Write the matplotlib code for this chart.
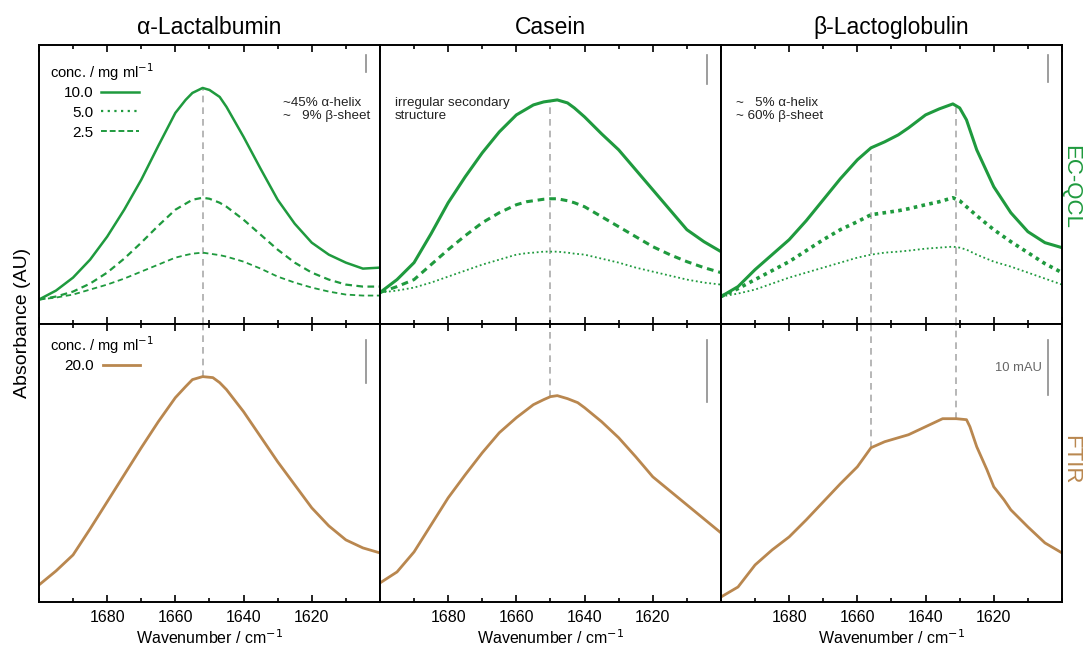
import matplotlib
matplotlib.use("Agg")
import matplotlib.pyplot as plt
from matplotlib.lines import Line2D
from matplotlib.ticker import MultipleLocator

plt.rcParams["font.family"] = ["Liberation Sans", "DejaVu Sans"]

green = "#1f9a3e"
brown = "#b9874f"
grey = "#8c8c8c"

proteins = ["\u03b1-Lactalbumin", "Casein", "\u03b2-Lactoglobulin"]

# EC-QCL spectra (arbitrary absorbance units), 10.0 / 5.0 / 2.5 mg/ml
wn_ala = [1700, 1695, 1690, 1685, 1680, 1675, 1670, 1665, 1660, 1657, 1655,
          1652, 1650, 1647, 1645, 1640, 1635, 1630, 1625, 1620, 1615, 1610,
          1605, 1600]
ala_10 = [24, 33, 46, 64, 87, 114, 144, 178, 211, 224, 231,
          236, 234, 227, 217, 187, 155, 124, 100, 81, 69, 61, 55, 56]
ala_5 = [24, 27, 32, 40, 51, 65, 81, 98, 114, 120, 124,
         126, 125, 121, 117, 104, 89, 74, 61, 51, 44, 39, 37, 37]
ala_2 = [24, 26, 29, 34, 39, 45, 52, 59, 66, 68.5, 70,
         71, 70, 68.5, 67, 62, 55, 47, 41, 36, 32, 29, 28, 28]

wn_cas = [1700, 1695, 1690, 1685, 1680, 1675, 1670, 1665, 1660, 1657, 1655,
          1652, 1650, 1648, 1645, 1643, 1640, 1635, 1630, 1625, 1620, 1615,
          1610, 1605, 1600]
cas_10 = [31, 44, 61, 90, 121, 147, 171, 192, 209, 215, 219,
          222, 223, 224, 221, 216, 207, 190, 174, 154, 134, 114, 94, 82, 72]
cas_5 = [31, 37, 44, 59, 74, 88, 101, 111, 119, 122, 123,
         124.5, 125, 125, 123, 121, 117, 107, 97, 87, 77, 69, 62, 56, 51]
cas_2 = [31, 33, 36, 41, 47, 53, 59, 64, 69, 70.5, 71,
         72, 72, 72, 71, 70, 69, 65, 61, 56, 52, 48, 44, 41, 39]

wn_blg = [1700, 1695, 1690, 1685, 1680, 1675, 1670, 1665, 1660, 1656, 1652,
          1648, 1645, 1640, 1636, 1632, 1630, 1628, 1625, 1620, 1615, 1610,
          1605, 1600]
blg_10 = [27, 37, 54, 69, 84, 103, 124, 145, 164, 176, 182,
          189, 196, 209, 215, 220, 216, 204, 174, 137, 111, 92, 81, 76]
blg_5 = [27, 35, 44, 53, 62, 73, 84, 94, 102, 109, 111,
         113, 115, 119, 122, 126, 123, 117, 108, 94, 82, 71, 60, 51]
blg_2 = [27, 30, 34, 40, 46, 51, 56, 61, 66, 69, 71,
         72, 73, 75, 76, 77, 76, 74, 69, 62, 57, 51, 45, 39]

# FTIR spectra, 20.0 mg/ml
wn_ala_ir = [1700, 1695, 1690, 1685, 1680, 1675, 1670, 1665, 1660, 1657, 1655,
             1652, 1649, 1647, 1645, 1640, 1635, 1630, 1625, 1620, 1615, 1610,
             1605, 1600]
ala_ir = [17, 31, 47, 73, 100, 127, 154, 180, 204, 215, 222,
          225, 224, 219, 212, 190, 165, 140, 117, 94, 76, 62, 54, 49]
wn_cas_ir = [1700, 1695, 1690, 1685, 1680, 1675, 1670, 1665, 1660, 1655, 1652,
             1650, 1648, 1645, 1642, 1640, 1635, 1630, 1625, 1620, 1615, 1610,
             1605, 1600]
cas_ir = [19, 30, 50, 77, 104, 127, 149, 169, 184, 197, 202,
          205, 206, 203, 199, 194, 180, 164, 145, 125, 111, 97, 83, 69]
wn_blg_ir = [1700, 1695, 1690, 1685, 1680, 1675, 1670, 1665, 1660, 1656, 1652,
             1648, 1645, 1640, 1635, 1631, 1628, 1627, 1625, 1622, 1620, 1617,
             1615, 1610, 1605, 1600]
blg_ir = [5, 15, 37, 52, 65, 82, 100, 118, 135, 154, 160,
          164, 167, 175, 183, 183, 182, 175, 155, 132, 115, 102,
          92, 75, 59, 49]

# band positions marked by grey dashed lines
bands = [[1652], [1650], [1656, 1631]]
# length of a 10 mAU bar in each panel
bar_qcl = [17, 29, 27]
bar_ir = [43, 62, 55]

notes = ["~45% \u03b1-helix\n~   9% \u03b2-sheet",
         "irregular secondary\nstructure",
         "~   5% \u03b1-helix\n~ 60% \u03b2-sheet"]
note_x = [0.716, 0.044, 0.044]

qcl = [(wn_ala, ala_10, ala_5, ala_2),
       (wn_cas, cas_10, cas_5, cas_2),
       (wn_blg, blg_10, blg_5, blg_2)]
ftir = [(wn_ala_ir, ala_ir), (wn_cas_ir, cas_ir), (wn_blg_ir, blg_ir)]

mid_style = [dict(ls=(0, (3, 2)), lw=1.6),
             dict(ls=(0, (2.2, 1.6)), lw=2.2),
             dict(ls=(0, (1, 1.2)), lw=2.6)]
low_style = [dict(ls=(0, (3, 2)), lw=1.3),
             dict(ls=(0, (1, 1.5)), lw=1.3),
             dict(ls=(0, (1, 1.5)), lw=1.3)]

fig, axes = plt.subplots(2, 3, figsize=(10.91, 6.46), dpi=100)
fig.subplots_adjust(left=0.0357, right=0.9734, top=0.9303, bottom=0.0681,
                    wspace=0, hspace=0)


def interp(x, xs, ys):
    pairs = sorted(zip(xs, ys))
    for (x0, y0), (x1, y1) in zip(pairs, pairs[1:]):
        if x0 <= x <= x1:
            return y0 + (y1 - y0) * (x - x0) / (x1 - x0)
    return ys[0]


for i in range(3):
    top = axes[0, i]
    bot = axes[1, i]
    wn, y10, y5, y2 = qcl[i]
    wn_ir, yir = ftir[i]

    for b in bands[i]:
        top.plot([b, b], [0, interp(b, wn, y10)], color="#aaaaaa",
                 ls=(0, (4, 3)), lw=1.2, zorder=1)
        bot.plot([b, b], [interp(b, wn_ir, yir), 278], color="#aaaaaa",
                 ls=(0, (4, 3)), lw=1.2, zorder=1)

    top.plot(wn, y10, color=green, lw=1.8 if i == 0 else 2.2)
    top.plot(wn, y5, color=green, **mid_style[i])
    top.plot(wn, y2, color=green, **low_style[i])
    bot.plot(wn_ir, yir, color=brown, lw=2.0)

    # 10 mAU scale bars
    top.plot([1604, 1604], [269 - bar_qcl[i], 269], color=grey, lw=1.2)
    bot.plot([1604, 1604], [262 - bar_ir[i], 262], color=grey, lw=1.2)

    top.text(note_x[i], 0.815, notes[i], transform=top.transAxes,
             fontsize=9.6, va="top", ha="left", color="#222222",
             linespacing=1.15)

    for ax in (top, bot):
        ax.set_xlim(1700, 1600)
        ax.xaxis.set_major_locator(MultipleLocator(20))
        ax.xaxis.set_minor_locator(MultipleLocator(10))
        ax.tick_params(axis="x", which="both", direction="in", top=True,
                       bottom=True, labelsize=11.5, pad=6)
        ax.tick_params(axis="x", which="major", length=5, width=1.2)
        ax.tick_params(axis="x", which="minor", length=3, width=1.2)
        ax.set_yticks([])
        for s in ax.spines.values():
            s.set_linewidth(1.4)
    top.set_ylim(0, 279)
    bot.set_ylim(0, 278)
    top.tick_params(axis="x", labelbottom=False)
    bot.set_xticks([1680, 1660, 1640, 1620])
    bot.set_xlabel("Wavenumber / cm$^{-1}$", fontsize=11.5, labelpad=2)
    top.set_title(proteins[i], fontsize=16.5, pad=8)

axes[1, 2].text(1606, 234, "10 mAU", fontsize=9.4, color="#666666",
                ha="right", va="center")

# legends
conc_title = "conc. / mg ml$^{-1}$"
axes[0, 0].text(0.032, 0.902, conc_title, transform=axes[0, 0].transAxes,
                fontsize=10.6, va="center", ha="left")
axes[1, 0].text(0.032, 0.922, conc_title, transform=axes[1, 0].transAxes,
                fontsize=10.6, va="center", ha="left")

h_qcl = [Line2D([], [], color=green, lw=1.8),
         Line2D([], [], color=green, ls=(0, (1, 2)), lw=1.6),
         Line2D([], [], color=green, ls=(0, (3, 1.5)), lw=1.4)]
leg = axes[0, 0].legend(h_qcl, ["10.0", "5.0", "2.5"], loc="upper right",
                        bbox_to_anchor=(0.293, 0.853), markerfirst=False,
                        frameon=False, fontsize=11, handlelength=2.5,
                        handletextpad=0.5, labelspacing=0.38, borderpad=0,
                        borderaxespad=0)
for t in leg.get_texts():
    t.set_ha("right")

h_ir = [Line2D([], [], color=brown, lw=2.0)]
leg2 = axes[1, 0].legend(h_ir, ["20.0"], loc="upper right",
                         bbox_to_anchor=(0.296, 0.872), markerfirst=False,
                         frameon=False, fontsize=11, handlelength=2.4,
                         handletextpad=0.6, borderpad=0, borderaxespad=0)

fig.text(0.021, 0.5, "Absorbance (AU)", rotation=90, fontsize=14,
         ha="center", va="center")
fig.text(0.981, 0.71, "EC-QCL", rotation=-90, fontsize=16, color=green,
         ha="center", va="center")
fig.text(0.981, 0.288, "FTIR", rotation=-90, fontsize=16, color=brown,
         ha="center", va="center")

plt.savefig("out.png", dpi=100)
